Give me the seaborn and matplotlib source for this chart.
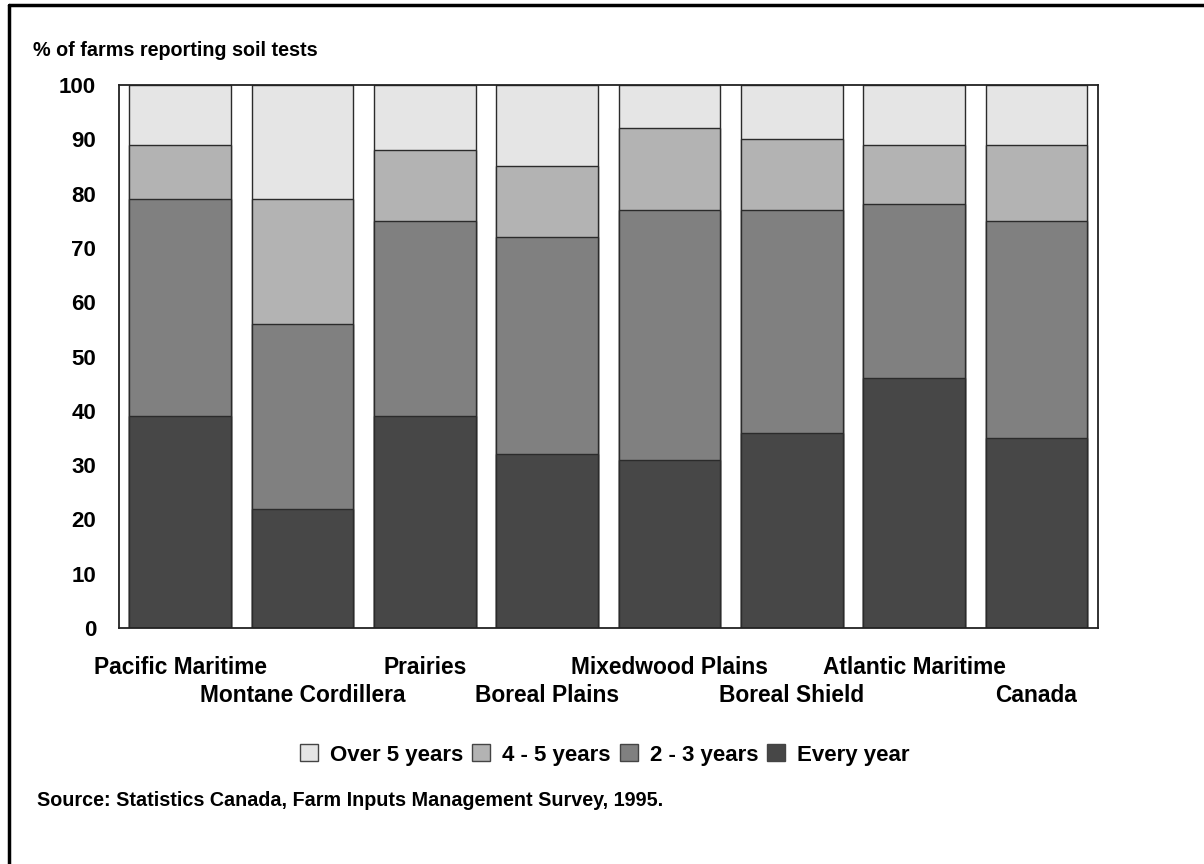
import matplotlib
matplotlib.use("Agg")
import matplotlib.pyplot as plt
from matplotlib.lines import Line2D
from matplotlib.patches import Patch
import pandas as pd
import seaborn as sns

# Data (% of farms reporting soil tests)
regions = ["Pacific Maritime", "Montane Cordillera", "Prairies", "Boreal Plains",
           "Mixedwood Plains", "Boreal Shield", "Atlantic Maritime", "Canada"]
every_year = [39, 22, 39, 32, 31, 36, 46, 35]
two_three_years = [40, 34, 36, 40, 46, 41, 32, 40]
four_five_years = [10, 23, 13, 13, 15, 13, 11, 14]
over_five_years = [11, 21, 12, 15, 8, 10, 11, 11]

series_names = ["Over 5 years", "4 - 5 years", "2 - 3 years", "Every year"]
colors = ["#e5e5e5", "#b3b3b3", "#808080", "#474747"]

sns.set_style("white")
plt.rcParams["font.family"] = ["Liberation Sans", "DejaVu Sans"]
plt.rcParams["font.weight"] = "bold"
plt.rcParams["text.color"] = "black"
plt.rcParams["xtick.color"] = "black"
plt.rcParams["ytick.color"] = "black"

# cumulative tops, so each stack is drawn as overlapping bars (top layer first)
df = pd.DataFrame({
    "region": regions,
    "Every year": every_year,
    "2 - 3 years": two_three_years,
    "4 - 5 years": four_five_years,
    "Over 5 years": over_five_years,
})
df["c_every"] = df["Every year"]
df["c_two"] = df["c_every"] + df["2 - 3 years"]
df["c_four"] = df["c_two"] + df["4 - 5 years"]
df["c_over"] = df["c_four"] + df["Over 5 years"]

fig = plt.figure(figsize=(12.04, 8.64), dpi=100)
ax = fig.add_axes([0.0988, 0.2731, 0.8128, 0.6285])

for col, color in zip(["c_over", "c_four", "c_two", "c_every"], colors):
    sns.barplot(data=df, x="region", y=col, color=color, width=0.83,
                edgecolor="#2b2b2b", linewidth=1.0, saturation=1, ax=ax)

ax.set_xlim(-0.5, 7.5)
ax.set_ylim(0, 100)
ax.set_yticks(range(0, 101, 10))
ax.set_xlabel("")
ax.set_ylabel("")

# alternating two-row category labels
ax.set_xticks(range(len(regions)))
ax.set_xticklabels([r if i % 2 == 0 else "\n" + r for i, r in enumerate(regions)],
                   fontsize=16.4, fontweight="bold", linespacing=1.3)
ax.tick_params(axis="x", length=0, pad=20, labelcolor="black")
ax.tick_params(axis="y", direction="inout", length=11, width=1, color="#333333",
               labelsize=16, pad=11, labelcolor="black")
for lab in ax.get_yticklabels():
    lab.set_fontweight("bold")

for side in ["left", "right", "top", "bottom"]:
    ax.spines[side].set_visible(True)
    ax.spines[side].set_color("#222222")
    ax.spines[side].set_linewidth(1.3)

# y-axis heading
fig.text(33 / 1204, 1 - 50 / 864, "% of farms reporting soil tests",
         fontsize=14.2, fontweight="bold", va="center", ha="left")

# legend
handles = [Patch(facecolor=c, edgecolor="#444444", linewidth=1) for c in colors]
fig.legend(handles, series_names, loc="center", bbox_to_anchor=(605 / 1204, 1 - 755 / 864),
           ncol=4, frameon=False, handlelength=0.8, handleheight=0.8,
           handletextpad=0.55, columnspacing=0.4, prop={"weight": "bold", "size": 16})

# source note
fig.text(37 / 1204, 1 - 801 / 864,
         "Source: Statistics Canada, Farm Inputs Management Survey, 1995.",
         fontsize=14.2, fontweight="bold", va="center", ha="left")

# outer frame (left and top rules)
fig.add_artist(Line2D([9 / 1204, 9 / 1204], [0, 1 - 5 / 864], color="black",
                      linewidth=2.5, transform=fig.transFigure))
fig.add_artist(Line2D([9 / 1204, 1], [1 - 5 / 864, 1 - 5 / 864], color="black",
                      linewidth=2.5, transform=fig.transFigure))

fig.savefig("out.png", dpi=100)
